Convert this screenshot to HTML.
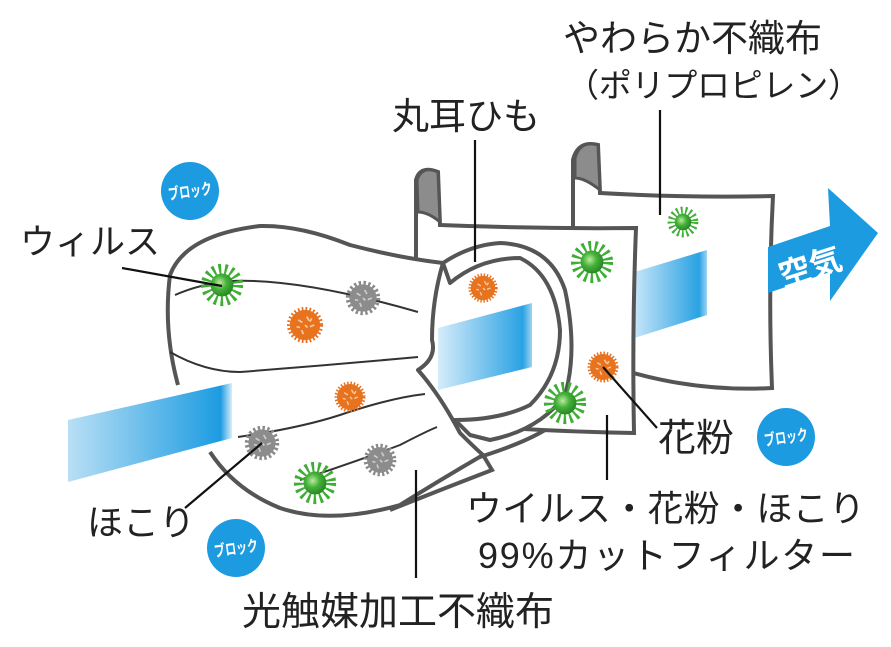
<!DOCTYPE html>
<html><head><meta charset="utf-8"><style>
html,body{margin:0;padding:0;background:#fff;}
svg{display:block;}
.t{font-family:"Liberation Sans","Noto Sans CJK JP",sans-serif;fill:#222;}
.b{font-family:"Liberation Sans","Noto Sans CJK JP",sans-serif;fill:#fff;font-weight:bold;font-size:16px;}
</style></head><body>
<svg width="891" height="647" viewBox="0 0 891 647" xmlns="http://www.w3.org/2000/svg">
<defs>
<linearGradient id="bg1" x1="0" x2="1" y1="0" y2="0">
<stop offset="0" stop-color="#b9dff5"/><stop offset="0.85" stop-color="#2aa2e3"/><stop offset="0.93" stop-color="#1d9be0"/><stop offset="1" stop-color="#d8eefa"/></linearGradient>
<linearGradient id="bg2" x1="0" x2="1"><stop offset="0" stop-color="#d6ecfa"/><stop offset="0.9" stop-color="#2aa2e3"/><stop offset="1" stop-color="#9fd3f2"/></linearGradient>
<radialGradient id="gg" cx="0.4" cy="0.4" r="0.6"><stop offset="0" stop-color="#bfeaa0"/><stop offset="0.5" stop-color="#45b23a"/><stop offset="1" stop-color="#2a8a25"/></radialGradient>
<symbol id="green" viewBox="-25 -25 50 50" overflow="visible">
<circle r="16" fill="none" stroke="#3fae35" stroke-width="16" stroke-dasharray="2.5 3.5"/>
<circle r="13" fill="url(#gg)"/>
</symbol>
<symbol id="orange" viewBox="-25 -25 50 50" overflow="visible">
<circle r="19" fill="none" stroke="#e86e1c" stroke-width="5" stroke-dasharray="2 2.5"/>
<circle r="18" fill="#e8731e"/>
<path d="M-8,-6l5,3M2,-10l3,5M6,2l5,-2M-4,6l2,5M-10,2l4,1M0,0l3,3M8,-8l-2,4" stroke="#f8c9a0" stroke-width="2"/>
</symbol>
<symbol id="grey" viewBox="-25 -25 50 50" overflow="visible">
<circle r="19" fill="none" stroke="#8a8a8a" stroke-width="5" stroke-dasharray="3 3"/>
<circle r="17" fill="#8c8c8c"/>
<path d="M-8,-6l5,3M2,-10l3,5M6,2l5,-2M-4,6l2,5M-10,2l4,1M0,0l3,3" stroke="#cfcfcf" stroke-width="2"/>
</symbol>
</defs>

<path d="M573,235 L573,160 Q578,140 598,145 L600,193 Q690,198 773,196 Q768,290 772,388 Q700,392 630,372" fill="#fff" stroke="#555" stroke-width="4"/>
<path d="M575,158 Q580,140 598,145 L600,190 Q585,178 575,178 Z" fill="#8c8c8c" stroke="#555" stroke-width="3"/>
<polygon points="628,274 707,250 707,315 628,340" fill="url(#bg2)"/>
<polygon points="768,247 830,226 828,188 878,233 830,301 830,272 768,293" fill="#1d9be0"/>
<text x="776" y="278" class="t" transform="rotate(-18 810 260)" style="fill:#fff;font-weight:bold;font-size:32px">空気</text>

<path d="M416,258 L416,180 Q420,165 438,172 L440,225 Q540,229 636,228 Q632,330 634,433 Q570,432 505,428" fill="#fff" stroke="#555" stroke-width="4"/>
<path d="M417,180 Q422,165 438,172 L440,222 Q428,212 418,212 Z" fill="#8c8c8c" stroke="#555" stroke-width="3"/>

<path d="M443,263 Q470,245 500,243 Q550,245 565,290 Q578,350 565,395 Q540,430 490,440 L470,435 L455,420 Q500,420 530,405 Q560,375 560,330 Q555,275 520,258 Q480,258 450,283 Z" fill="#fff" stroke="#555" stroke-width="4" stroke-linejoin="round"/>
<path d="M470,460 Q520,445 545,430" fill="none" stroke="#555" stroke-width="4"/>
<polygon points="438,328 532,303 532,367 438,390" fill="url(#bg2)"/>

<path d="M178,385 Q163,330 170,275 Q185,235 260,226 Q300,225 350,245 Q400,258 443,263 Q432,300 432,340 Q437,358 418,370 Q440,395 460,433 Q475,448 483,455 Q440,480 400,505 Q330,525 280,508 Q235,490 210,452" fill="#fff" stroke="#555" stroke-width="4" stroke-linejoin="round"/>
<path d="M483,455 L492,470 Q440,490 390,510" fill="none" stroke="#555" stroke-width="4"/>
<g fill="none" stroke="#333" stroke-width="2">
<path d="M175,295 Q200,284 230,281 Q300,278 418,312"/>
<path d="M170,352 Q205,372 240,372 Q330,365 418,357"/>
<path d="M238,437 Q300,428 340,415 Q390,398 425,394"/>
<path d="M300,480 Q360,460 400,445 Q425,432 437,427"/>
</g>
<polygon points="68,420 232,383 232,438 68,482" fill="url(#bg1)"/>

<use href="#green" x="200" y="263" width="44" height="44"/>
<use href="#green" x="293" y="461" width="44" height="44"/>
<use href="#green" x="570" y="240" width="44" height="44"/>
<use href="#green" x="543" y="381" width="44" height="44"/>
<use href="#green" x="667" y="206" width="32" height="32"/>
<use href="#orange" x="284" y="304" width="42" height="42"/>
<use href="#orange" x="332" y="379" width="36" height="36"/>
<use href="#orange" x="466" y="271" width="34" height="34"/>
<use href="#orange" x="585" y="349" width="36" height="36"/>
<use href="#grey" x="343" y="278" width="40" height="40"/>
<use href="#grey" x="242" y="423" width="40" height="40"/>
<use href="#grey" x="361" y="441" width="38" height="38"/>

<g stroke="#111" stroke-width="2.2" fill="none">
<line x1="122" y1="268" x2="222" y2="286"/>
<line x1="475" y1="140" x2="475" y2="262"/>
<line x1="660" y1="110" x2="660" y2="215"/>
<line x1="185" y1="508" x2="262" y2="443"/>
<line x1="603" y1="367" x2="657" y2="428"/>
<line x1="607" y1="415" x2="607" y2="480"/>
<line x1="416" y1="470" x2="416" y2="578"/>
</g>

<g>
<circle cx="190" cy="191" r="29" fill="#1d9be0"/>
<text x="168" y="197" class="b" textLength="44" lengthAdjust="spacingAndGlyphs" transform="rotate(-8 190 191)">ブロック</text>
<circle cx="786" cy="437" r="29" fill="#1d9be0"/>
<text x="764" y="443" class="b" textLength="44" lengthAdjust="spacingAndGlyphs" transform="rotate(-8 786 437)">ブロック</text>
<circle cx="236" cy="548" r="29" fill="#1d9be0"/>
<text x="214" y="554" class="b" textLength="44" lengthAdjust="spacingAndGlyphs" transform="rotate(-8 236 548)">ブロック</text>
</g>

<text x="563" y="51" class="t" font-size="37">やわらか不織布</text>
<text x="566" y="97" class="t" font-size="33" textLength="295" lengthAdjust="spacing">（ポリプロピレン）</text>
<text x="392" y="129" class="t" font-size="37">丸耳ひも</text>
<text x="20" y="254" class="t" font-size="35">ウィルス</text>
<text x="87" y="535" class="t" font-size="36">ほこり</text>
<text x="658" y="451" class="t" font-size="38">花粉</text>
<text x="466" y="521" class="t" font-size="36" textLength="399" lengthAdjust="spacing">ウイルス・花粉・ほこり</text>
<text x="478" y="568" class="t" font-size="36" textLength="377" lengthAdjust="spacing">99%カットフィルター</text>
<text x="242" y="625" class="t" font-size="39">光触媒加工不織布</text>
</svg>
</body></html>
